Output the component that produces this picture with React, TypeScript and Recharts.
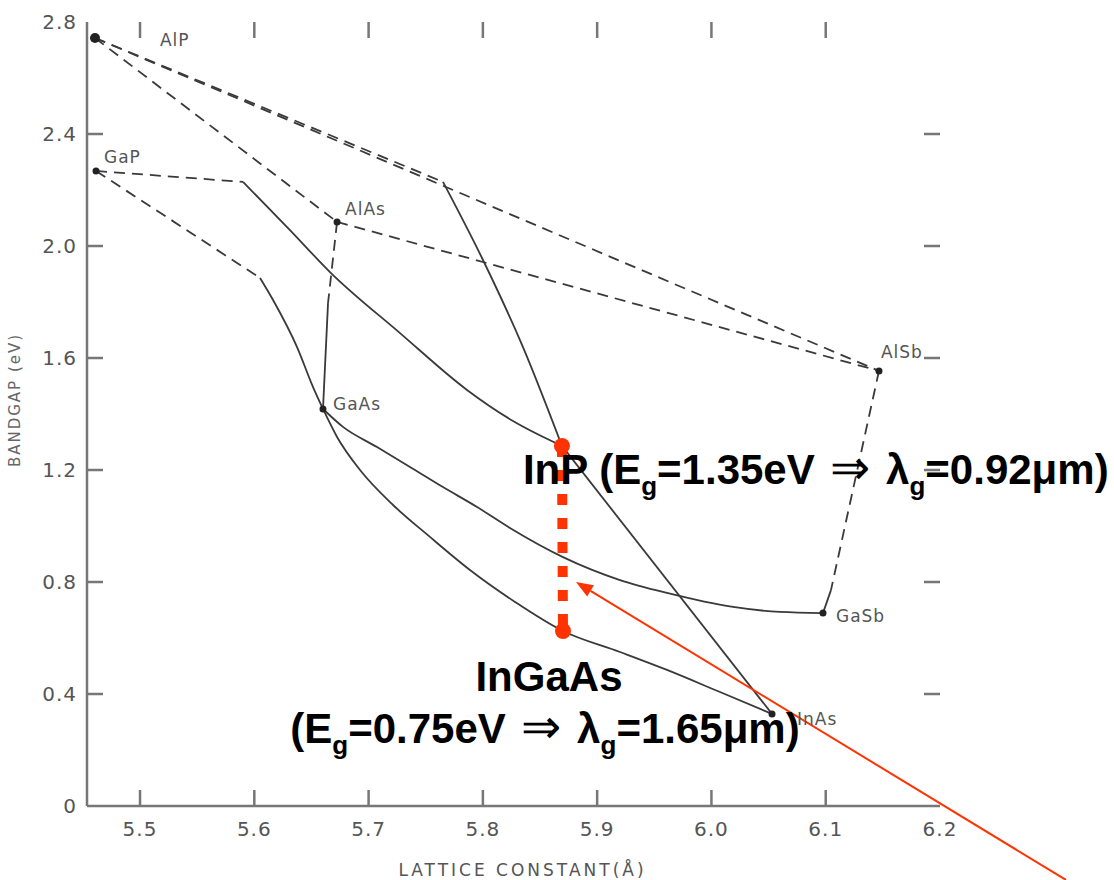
import React from "react";
import { LineChart, Line, XAxis, YAxis, Scatter, ReferenceLine, ReferenceDot } from "recharts";

// axis ticks
const xTicks = [5.5, 5.6, 5.7, 5.8, 5.9, 6.0, 6.1, 6.2];
const yTicks = [0, 0.4, 0.8, 1.2, 1.6, 2.0, 2.4, 2.8];

// binary compounds (lattice constant in A, bandgap in eV)
const compounds = [
  { name: "AlP", x: 5.4606, y: 2.743 },
  { name: "GaP", x: 5.4615, y: 2.268 },
  { name: "AlAs", x: 5.6724, y: 2.086 },
  { name: "GaAs", x: 5.6601, y: 1.418 },
  { name: "AlSb", x: 6.1466, y: 1.554 },
  { name: "GaSb", x: 6.0976, y: 0.689 },
  { name: "InAs", x: 6.053, y: 0.329 },
];

const inp = { x: 5.8692, y: 1.286 };
const ingaas = { x: 5.8701, y: 0.625 };

// ternary lines, indirect gap parts are dashed
const alpToAlsb = [{ x: 5.4606, y: 2.743 }, { x: 6.1466, y: 1.554 }];
const alpToAlas = [{ x: 5.4606, y: 2.743 }, { x: 5.6724, y: 2.086 }];
const alasToAlsb = [{ x: 5.6724, y: 2.086 }, { x: 6.1466, y: 1.554 }];
const alpToInpIndirect = [{ x: 5.4606, y: 2.743 }, { x: 5.7651, y: 2.229 }];
const alpToInpDirect = [
  { x: 5.7651, y: 2.229 }, { x: 5.8001, y: 1.95 }, { x: 5.8351, y: 1.639 }, { x: 5.8692, y: 1.286 },
];
const gapToInpIndirect = [{ x: 5.4615, y: 2.268 }, { x: 5.5901, y: 2.229 }];
const gapToInpDirect = [
  { x: 5.5901, y: 2.229 }, { x: 5.6312, y: 2.057 }, { x: 5.6662, y: 1.907 }, { x: 5.7275, y: 1.689 },
  { x: 5.7861, y: 1.486 }, { x: 5.8264, y: 1.375 }, { x: 5.8692, y: 1.286 },
];
const gapToGaasIndirect = [{ x: 5.4615, y: 2.268 }, { x: 5.605, y: 1.886 }];
const gapToGaasDirect = [
  { x: 5.605, y: 1.886 }, { x: 5.6164, y: 1.807 }, { x: 5.6374, y: 1.639 }, { x: 5.6514, y: 1.496 },
  { x: 5.6601, y: 1.418 },
];
const alasToGaasIndirect = [{ x: 5.6724, y: 2.086 }, { x: 5.6645, y: 1.796 }];
const alasToGaasDirect = [{ x: 5.6645, y: 1.796 }, { x: 5.6601, y: 1.418 }];
const alsbToGasbIndirect = [{ x: 6.1466, y: 1.554 }, { x: 6.1046, y: 0.771 }];
const alsbToGasbDirect = [{ x: 6.1046, y: 0.771 }, { x: 6.0976, y: 0.689 }];
const gaasToGasb = [
  { x: 5.6601, y: 1.418 }, { x: 5.6776, y: 1.354 }, { x: 5.7074, y: 1.282 }, { x: 5.7362, y: 1.211 },
  { x: 5.7651, y: 1.139 }, { x: 5.7949, y: 1.068 }, { x: 5.8237, y: 0.993 }, { x: 5.8701, y: 0.889 },
  { x: 5.92, y: 0.807 }, { x: 5.9611, y: 0.761 }, { x: 6.0189, y: 0.711 }, { x: 6.06, y: 0.693 },
  { x: 6.0976, y: 0.689 },
];
const gaasToInas = [
  { x: 5.6601, y: 1.418 }, { x: 5.6724, y: 1.318 }, { x: 5.6925, y: 1.2 }, { x: 5.7214, y: 1.075 },
  { x: 5.7537, y: 0.961 }, { x: 5.7887, y: 0.843 }, { x: 5.8281, y: 0.729 }, { x: 5.8701, y: 0.625 },
  { x: 5.92, y: 0.55 }, { x: 5.9611, y: 0.486 }, { x: 6.0075, y: 0.407 }, { x: 6.053, y: 0.329 },
];
const inpToInas = [{ x: 5.8692, y: 1.286 }, { x: 6.053, y: 0.329 }];
const matchedLine = [inp, ingaas];
const arrowLine = [{ x: 6.3102, y: -0.264 }, { x: 5.8815, y: 0.8 }];

const X_MIN = 5.4536;
const X_MAX = 6.2;
const Y_MAX = 2.8;
const TICK_LEN = 16;

const INK = "#3a3a3a";
const RED = "#ff3300";
const FRAME = "#777";

const labelShift: Record<string, [number, number]> = {
  AlP: [65, 8],
  GaP: [8, -8],
  AlAs: [8, -7],
  GaAs: [10, 1],
  AlSb: [2, -13],
  GaSb: [13, 9],
  InAs: [25, 11],
};

const CompoundMark = (props: any) => {
  const { cx, cy, payload } = props;
  const [dx, dy] = labelShift[payload.name];
  return (
    <g>
      <circle cx={cx} cy={cy} r={payload.name === "AlP" ? 5 : 3.5} fill="#222" />
      <text x={cx + dx} y={cy + dy} fontSize={17} fontFamily="DejaVu Sans" fill="#555" letterSpacing={1}>
        {payload.name}
      </text>
    </g>
  );
};

// inward tick marks, drawn from the frame point via the scales
const BottomMark = ({ cx, cy }: any) => (
  <path d={`M${cx},${cy}L${cx},${cy - TICK_LEN}`} stroke={FRAME} strokeWidth={2.5} fill="none" />
);
const TopMark = ({ cx, cy }: any) => (
  <path d={`M${cx},${cy}L${cx},${cy + TICK_LEN}`} stroke={FRAME} strokeWidth={2.5} fill="none" />
);
const LeftMark = ({ cx, cy }: any) => (
  <path d={`M${cx},${cy}L${cx + TICK_LEN},${cy}`} stroke={FRAME} strokeWidth={2.5} fill="none" />
);
const RightMark = ({ cx, cy }: any) => (
  <path d={`M${cx},${cy}L${cx - TICK_LEN},${cy}`} stroke={FRAME} strokeWidth={2.5} fill="none" />
);

const big = { fontSize: 42, fontWeight: 700, fontFamily: "Liberation Sans, Arial, sans-serif", fill: "#000" };

const Sub = () => (
  <tspan fontSize={26} dy={11}>g</tspan>
);

const Implies = () => (
  <tspan fontWeight={400} fontSize={48} dx={4}>⇒</tspan>
);

const InpNote = ({ cx, cy }: any) => (
  <text x={cx - 39} y={cy + 38} {...big}>
    InP (E<Sub /><tspan dy={-11}>=1.35eV </tspan>
    <Implies /><tspan dx={4}> λ</tspan><Sub />
    <tspan dy={-11}>=0.92μm)</tspan>
  </text>
);

const IngaasNote = ({ cx, cy }: any) => (
  <g>
    <text x={cx - 14} y={cy + 60} textAnchor="middle" {...big}>InGaAs</text>
    <text x={cx - 18} y={cy + 112} textAnchor="middle" {...big}>
      (E<Sub /><tspan dy={-11}>=0.75eV </tspan>
      <Implies /><tspan dx={4}> λ</tspan><Sub />
      <tspan dy={-11}>=1.65μm)</tspan>
    </text>
  </g>
);

const Arrow = (props: any) => {
  const { x1, y1, x2, y2 } = props;
  const a = Math.atan2(y2 - y1, x2 - x1);
  const len = 17;
  const half = 6.5;
  const bx = x2 - len * Math.cos(a);
  const by = y2 - len * Math.sin(a);
  const p1 = `${bx - half * Math.sin(a)},${by + half * Math.cos(a)}`;
  const p2 = `${bx + half * Math.sin(a)},${by - half * Math.cos(a)}`;
  return (
    <g>
      <line x1={x1} y1={y1} x2={bx} y2={by} stroke={RED} strokeWidth={2} />
      <polygon points={`${x2},${y2} ${p1} ${p2}`} fill={RED} />
    </g>
  );
};

const labelFont = { fill: "#555", fontSize: 20, fontFamily: "DejaVu Sans", letterSpacing: 1 };

const BottomTick = ({ x, y, payload }: any) => (
  <text x={x} y={y + 30} textAnchor="middle" {...labelFont}>{payload.value.toFixed(1)}</text>
);
const LeftTick = ({ x, y, payload }: any) => (
  <text x={x - 10} y={y + 7} textAnchor="end" {...labelFont}>
    {payload.value === 0 ? "0" : payload.value.toFixed(1)}
  </text>
);

const solid = (data: any[], curved = false) => (
  <Line data={data} dataKey="y" type={curved ? "monotone" : "linear"} stroke={INK} strokeWidth={1.8} dot={false} isAnimationActive={false} />
);
const dashed = (data: any[]) => (
  <Line data={data} dataKey="y" type="linear" stroke={INK} strokeWidth={1.8} strokeDasharray="11 7" dot={false} isAnimationActive={false} />
);

export default function App() {
  return (
    <div style={{ position: "absolute", left: 0, top: 0, width: 1114, height: 880, background: "#fff" }}>
      <LineChart width={1114} height={880} margin={{ top: 22, right: 174, bottom: 0, left: 0 }}>
        <XAxis
          type="number"
          dataKey="x"
          domain={[X_MIN, X_MAX]}
          allowDataOverflow
          ticks={xTicks}
          tickLine={false}
          tickSize={0}
          tickMargin={0}
          tick={<BottomTick />}
          height={74}
          axisLine={{ stroke: FRAME, strokeWidth: 2.5 }}
          label={{
            content: (p: any) => (
              <text x={p.viewBox.x + p.viewBox.width / 2 + 9} y={p.viewBox.y + 70} textAnchor="middle" fontSize={17} fontFamily="DejaVu Sans" fill="#555" letterSpacing={3}>
                LATTICE CONSTANT(Å)
              </text>
            ),
          }}
        />
        <XAxis xAxisId="top" orientation="top" type="number" domain={[X_MIN, X_MAX]} allowDataOverflow height={0} tick={false} tickLine={false} axisLine={{ stroke: FRAME, strokeWidth: 2.5 }} />
        <YAxis
          type="number"
          domain={[0, Y_MAX]}
          allowDataOverflow
          ticks={yTicks}
          tickLine={false}
          tickSize={0}
          tickMargin={0}
          tick={<LeftTick />}
          width={87}
          axisLine={{ stroke: FRAME, strokeWidth: 2.5 }}
          label={{
            content: (p: any) => {
              const x = p.viewBox.x + 20;
              const y = p.viewBox.y + p.viewBox.height / 2 - 14;
              return (
                <text x={x} y={y} transform={`rotate(-90 ${x} ${y})`} textAnchor="middle" fontSize={15} fontFamily="DejaVu Sans" fill="#666" letterSpacing={2}>
                  BANDGAP (eV)
                </text>
              );
            },
          }}
        />
        <YAxis yAxisId="right" orientation="right" type="number" domain={[0, Y_MAX]} allowDataOverflow width={0} tick={false} tickLine={false} axisLine={{ stroke: FRAME, strokeWidth: 2.5 }} />

        {dashed(alpToAlsb)}
        {dashed(alpToAlas)}
        {dashed(alasToAlsb)}
        {dashed(alpToInpIndirect)}
        {solid(alpToInpDirect, true)}
        {dashed(gapToInpIndirect)}
        {solid(gapToInpDirect, true)}
        {dashed(gapToGaasIndirect)}
        {solid(gapToGaasDirect, true)}
        {dashed(alasToGaasIndirect)}
        {solid(alasToGaasDirect)}
        {dashed(alsbToGasbIndirect)}
        {solid(alsbToGasbDirect)}
        {solid(gaasToGasb, true)}
        {solid(gaasToInas, true)}
        {solid(inpToInas)}

        <Scatter data={compounds} dataKey="y" shape={<CompoundMark />} isAnimationActive={false} />

        <Line
          data={matchedLine}
          dataKey="y"
          type="linear"
          stroke={RED}
          strokeWidth={10}
          strokeDasharray="11 13"
          dot={{ r: 8, fill: RED, stroke: "none" }}
          isAnimationActive={false}
        />
        <ReferenceLine segment={arrowLine} ifOverflow="visible" shape={<Arrow />} />

        <ReferenceDot x={inp.x} y={inp.y} r={0} shape={<InpNote />} />
        <ReferenceDot x={ingaas.x} y={ingaas.y} r={0} shape={<IngaasNote />} />

        {/* inward tick marks on the frame, drawn last so nothing covers them */}
        {xTicks.slice(0, -1).map((t) => (
          <ReferenceDot key={`b${t}`} x={t} y={0} ifOverflow="visible" shape={<BottomMark />} />
        ))}
        {xTicks.slice(0, -1).map((t) => (
          <ReferenceDot key={`t${t}`} x={t} y={Y_MAX} ifOverflow="visible" shape={<TopMark />} />
        ))}
        {yTicks.slice(1, -1).map((t) => (
          <ReferenceDot key={`l${t}`} x={X_MIN} y={t} ifOverflow="visible" shape={<LeftMark />} />
        ))}
        {yTicks.slice(1, -1).map((t) => (
          <ReferenceDot key={`r${t}`} x={X_MAX} y={t} ifOverflow="visible" shape={<RightMark />} />
        ))}
      </LineChart>
    </div>
  );
}
